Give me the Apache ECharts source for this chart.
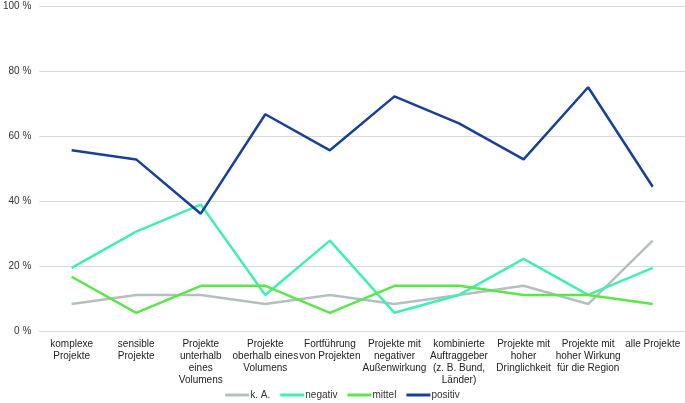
<!DOCTYPE html>
<html><head><meta charset="utf-8">
<script src="https://cdn.jsdelivr.net/npm/echarts@6/dist/echarts.min.js"></script>
<style>html,body{margin:0;padding:0;background:#fff}#c{width:685px;height:403px}</style>
</head><body><div id="c"></div>
<script>
const categories = ["komplexe\nProjekte","sensible\nProjekte","Projekte\nunterhalb\neines\nVolumens","Projekte\noberhalb eines\nVolumens","Fortführung\nvon Projekten","Projekte mit\nnegativer\nAußenwirkung","kombinierte\nAuftraggeber\n(z. B. Bund,\nLänder)","Projekte mit\nhoher\nDringlichkeit","Projekte mit\nhoher Wirkung\nfür die Region","alle Projekte"];
const kA = [8.3,11.1,11.1,8.3,11.1,8.3,11.1,13.9,8.3,27.8];
const negativ = [19.4,30.6,38.9,11.1,27.8,5.6,11.1,22.2,11.1,19.4];
const mittel = [16.7,5.6,13.9,13.9,5.6,13.9,13.9,11.1,11.1,8.3];
const positiv = [55.6,52.8,36.1,66.7,55.6,72.2,63.9,52.8,75.0,44.4];
const seriesNames = ["k. A.","negativ","mittel","positiv"];
const colors = ["#b4c0c0","#40f0b2","#5be64a","#16409a"];
const chart = echarts.init(document.getElementById('c'));
const data = [kA, negativ, mittel, positiv];
chart.setOption({
  animation:false,
  textStyle:{fontFamily:'Liberation Sans, Arial, sans-serif'},
  grid:{left:35,right:0,top:6,bottom:72},
  legend:{top:385,left:'center',itemWidth:24,itemHeight:3,itemGap:10,icon:'rect',
    textStyle:{fontSize:10,color:'#333',padding:[0,0,0,-4]},data:seriesNames},
  xAxis:{type:'category',data:categories,boundaryGap:true,
    axisLine:{lineStyle:{color:'#d9d9d9',width:1}},axisTick:{show:false},
    axisLabel:{interval:0,fontSize:10,color:'#222',lineHeight:12,margin:7}},
  yAxis:{type:'value',min:0,max:100,interval:20,
    axisLabel:{formatter:'{value} %',fontSize:10,color:'#333',margin:8},
    splitLine:{lineStyle:{color:'#d9d9d9',width:1}},axisLine:{show:false},axisTick:{show:false}},
  series:data.map((d,i)=>({name:seriesNames[i],type:'line',data:d,showSymbol:false,symbol:'none',
    lineStyle:{width:2.5,color:colors[i]},itemStyle:{color:colors[i]}}))
});
</script></body></html>
